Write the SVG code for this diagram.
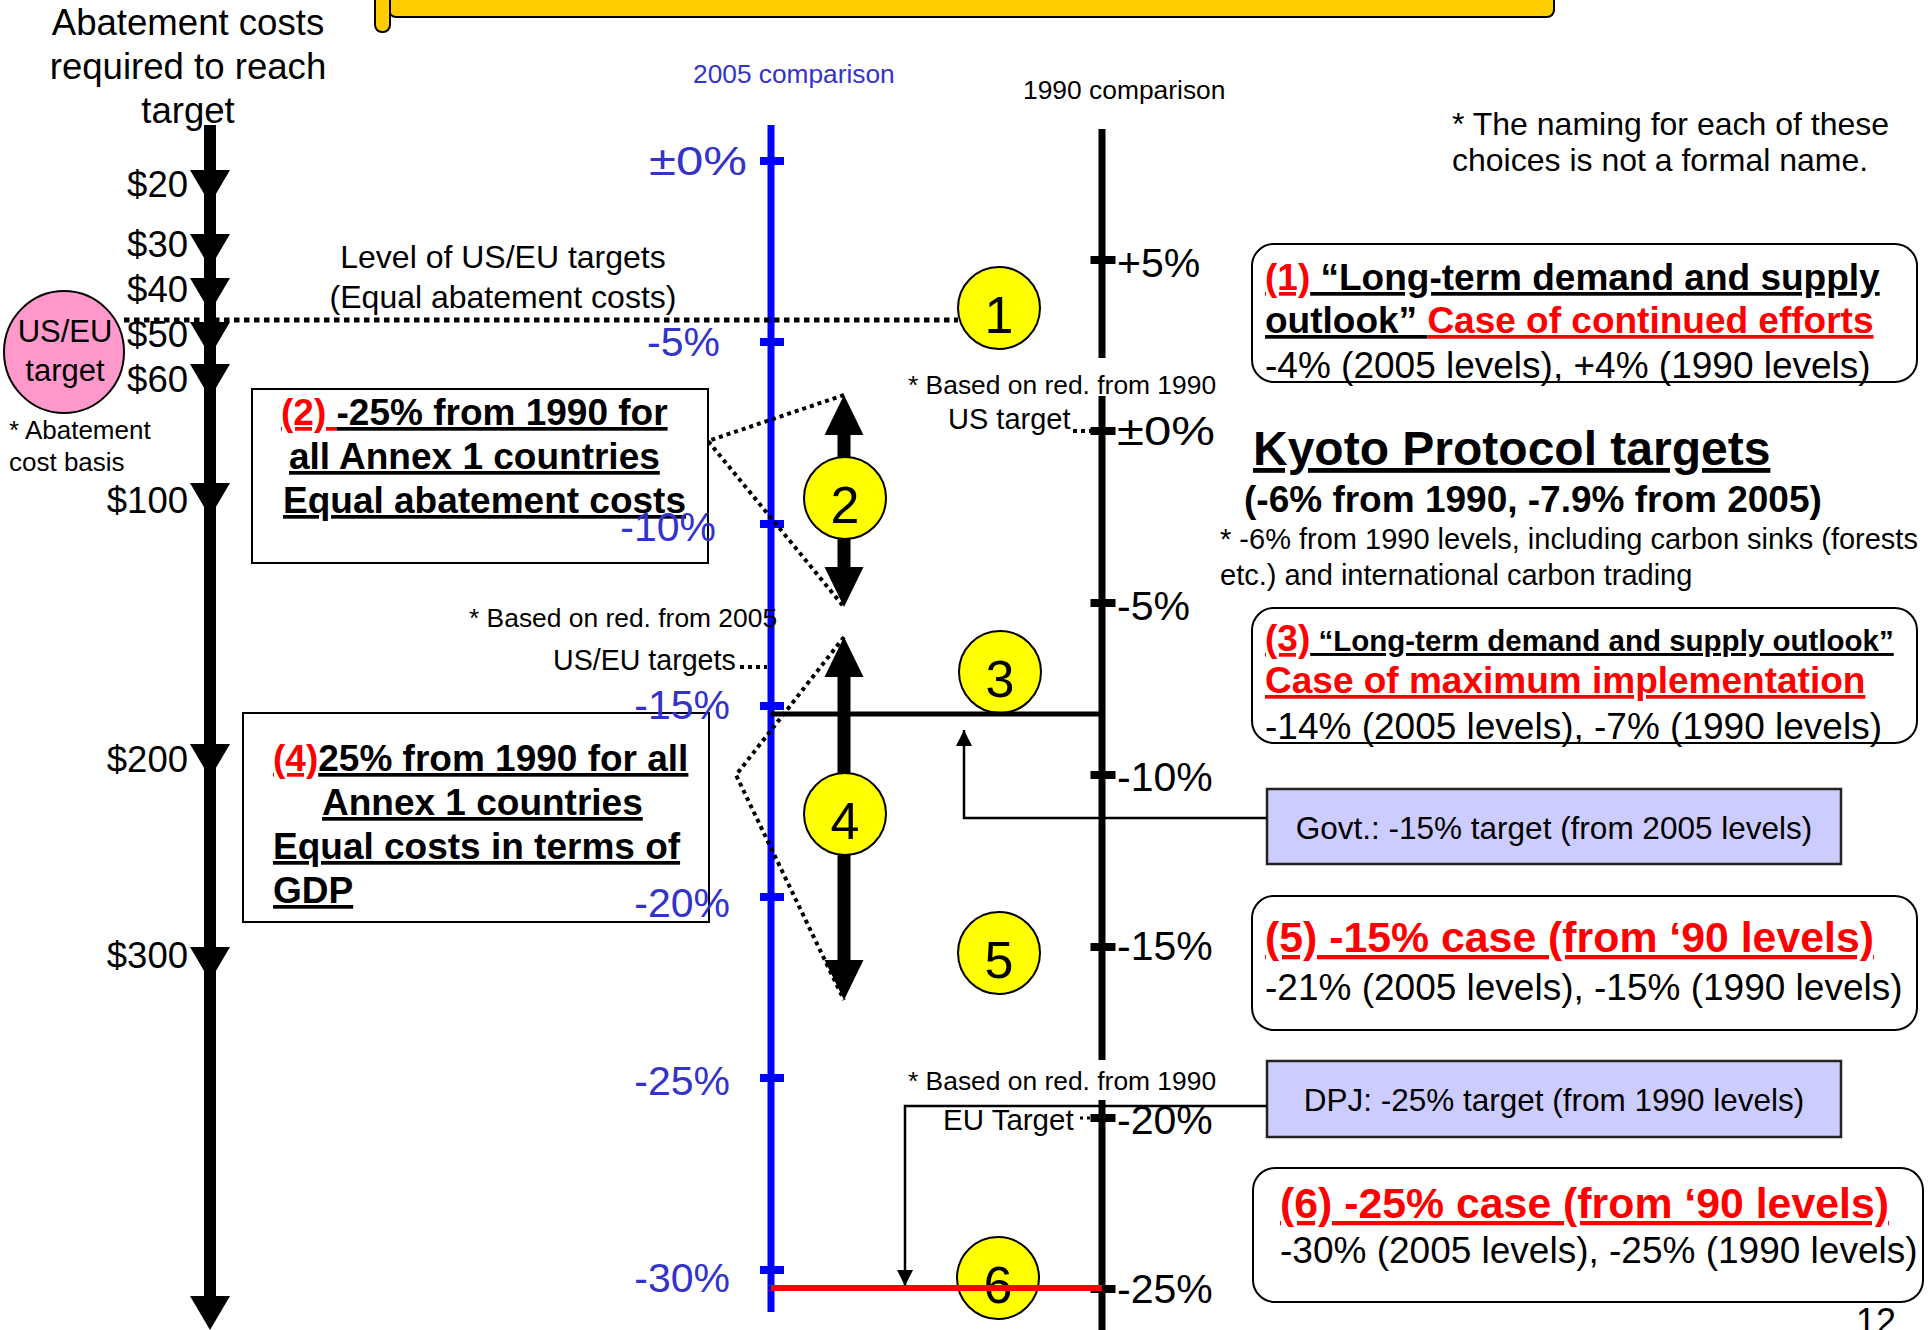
<svg xmlns="http://www.w3.org/2000/svg" width="1930" height="1330" viewBox="0 0 1930 1330">
<style>
text{font-family:"Liberation Sans",Arial,Helvetica,sans-serif;fill:#000}
.b{font-weight:bold}
.u{text-decoration:underline}
.r{fill:#FF0000}
.bl{fill:#3333CC}
.lab{font-size:41px}
.num{font-size:52px;text-anchor:middle}
.yc{fill:#FFFF00;stroke:#000;stroke-width:2}
.rb{fill:#FFFFFF;stroke:#000;stroke-width:2}
.pb{fill:#CCCCFF;stroke:#222;stroke-width:2.5}
.dot{fill:none;stroke:#000;stroke-width:4;stroke-dasharray:4 4}
.thin{fill:none;stroke:#000;stroke-width:2.5}
.end{text-anchor:end}
.mid{text-anchor:middle}
</style>
<defs>
<path id="dh" d="M-20,0 L20,0 L0,34 Z" fill="#000"/>
<rect id="bt" x="-12" y="-4" width="24" height="8" fill="#0000FF"/>
<rect id="kt" x="-12.5" y="-4" width="25" height="8" fill="#000"/>
<marker id="ah" viewBox="0 0 16 16" refX="16" refY="8" markerWidth="16" markerHeight="16" markerUnits="userSpaceOnUse" orient="auto"><path d="M0,0 L16,8 L0,16 Z" fill="#000"/></marker>
</defs>
<rect x="0" y="0" width="1930" height="1330" fill="#FFFFFF"/>

<g id="title-banner">
<rect x="389" y="-40" width="1165" height="57" rx="7" fill="#FFCC00" stroke="#000" stroke-width="2"/>
<rect x="375" y="-40" width="15" height="72" rx="7" fill="#FFCC00" stroke="#000" stroke-width="2"/>
</g>

<g id="cost-axis">
<text x="188" y="35" class="mid" font-size="36.6">Abatement costs</text>
<text x="188" y="79" class="mid" font-size="36.6">required to reach</text>
<text x="188" y="123" class="mid" font-size="36.6">target</text>
<line x1="210" y1="125" x2="210" y2="1300" stroke="#000" stroke-width="12"/>
<use href="#dh" x="210" y="170"/>
<use href="#dh" x="210" y="234"/>
<use href="#dh" x="210" y="278"/>
<use href="#dh" x="210" y="322"/>
<use href="#dh" x="210" y="364"/>
<use href="#dh" x="210" y="483"/>
<use href="#dh" x="210" y="744"/>
<use href="#dh" x="210" y="947"/>
<use href="#dh" x="210" y="1296"/>
<text x="188" y="197" class="end" font-size="36.5">$20</text>
<text x="188" y="257" class="end" font-size="36.5">$30</text>
<text x="188" y="302" class="end" font-size="36.5">$40</text>
<text x="188" y="347" class="end" font-size="36.5">$50</text>
<text x="188" y="392" class="end" font-size="36.5">$60</text>
<text x="188" y="513" class="end" font-size="36.5">$100</text>
<text x="188" y="772" class="end" font-size="36.5">$200</text>
<text x="188" y="968" class="end" font-size="36.5">$300</text>
<text x="9" y="439" font-size="26">* Abatement</text>
<text x="9" y="471" font-size="26">cost basis</text>
</g>

<g id="us-eu-target">
<ellipse cx="64" cy="352" rx="60" ry="61" fill="#FF99CC" stroke="#000" stroke-width="2"/>
<text x="65" y="342" class="mid" font-size="31">US/EU</text>
<text x="65" y="381" class="mid" font-size="31">target</text>
</g>

<g id="us-eu-level-label">
<text x="503" y="268" class="mid" font-size="32">Level of US/EU targets</text>
<text x="503" y="308" class="mid" font-size="32">(Equal abatement costs)</text>
</g>

<g id="box-2">
<rect x="252" y="389" width="456" height="174" fill="#FFFFFF" stroke="#000" stroke-width="2"/>
<text x="281" y="425" class="b" font-size="37"><tspan class="r u">(2) </tspan><tspan class="u">-25% from 1990 for</tspan></text>
<text x="289" y="469" class="b u" font-size="37">all Annex 1 countries</text>
<text x="283" y="513" class="b u" font-size="37">Equal abatement costs</text>
</g>

<g id="box-4">
<rect x="243" y="713" width="466" height="209" fill="#FFFFFF" stroke="#000" stroke-width="2"/>
<text x="273" y="771" class="b" font-size="37"><tspan class="r u">(4)</tspan><tspan class="u">25% from 1990 for all</tspan></text>
<text x="322" y="815" class="b u" font-size="37">Annex 1 countries</text>
<text x="273" y="859" class="b u" font-size="37">Equal costs in terms of</text>
<text x="273" y="903" class="b u" font-size="37">GDP</text>
</g>

<g id="axis-2005">
<text x="693" y="83" class="bl" font-size="26.3">2005 comparison</text>
<line x1="771" y1="125" x2="771" y2="1312" stroke="#0000FF" stroke-width="7"/>
<use href="#bt" x="772" y="161"/>
<use href="#bt" x="772" y="342"/>
<use href="#bt" x="772" y="524"/>
<use href="#bt" x="772" y="706"/>
<use href="#bt" x="772" y="897"/>
<use href="#bt" x="772" y="1078"/>
<use href="#bt" x="772" y="1270"/>
<text x="747" y="175" class="bl lab end" textLength="98" lengthAdjust="spacingAndGlyphs">±0%</text>
<text x="720" y="356" class="bl lab end">-5%</text>
<text x="716" y="541" class="bl lab end">-10%</text>
<text x="730" y="719" class="bl lab end">-15%</text>
<text x="730" y="917" class="bl lab end">-20%</text>
<text x="730" y="1095" class="bl lab end">-25%</text>
<text x="730" y="1292" class="bl lab end">-30%</text>
</g>

<g id="axis-1990">
<text x="1023" y="99" font-size="26.4">1990 comparison</text>
<line x1="1102" y1="129" x2="1102" y2="358" stroke="#000" stroke-width="7"/>
<line x1="1102" y1="396" x2="1102" y2="1060" stroke="#000" stroke-width="7"/>
<line x1="1102" y1="1100" x2="1102" y2="1330" stroke="#000" stroke-width="7"/>
<use href="#kt" x="1103" y="260"/>
<use href="#kt" x="1103" y="431"/>
<use href="#kt" x="1103" y="603"/>
<use href="#kt" x="1103" y="775"/>
<use href="#kt" x="1103" y="947"/>
<use href="#kt" x="1103" y="1118"/>
<use href="#kt" x="1103" y="1289"/>
<text x="1117" y="277" class="lab">+5%</text>
<text x="1117" y="445" class="lab" textLength="98" lengthAdjust="spacingAndGlyphs">±0%</text>
<text x="1117" y="620" class="lab">-5%</text>
<text x="1117" y="791" class="lab">-10%</text>
<text x="1117" y="960" class="lab">-15%</text>
<text x="1117" y="1134" class="lab">-20%</text>
<text x="1117" y="1303" class="lab">-25%</text>
</g>

<g id="arrow-2">
<line x1="844" y1="430" x2="844" y2="572" stroke="#000" stroke-width="13"/>
<path d="M824.5,435 L863.5,435 L844,395 Z" fill="#000"/>
<path d="M824.5,567 L863.5,567 L844,607 Z" fill="#000"/>
</g>
<g id="arrow-4">
<line x1="844" y1="672" x2="844" y2="965" stroke="#000" stroke-width="13"/>
<path d="M824.5,677 L863.5,677 L844,637 Z" fill="#000"/>
<path d="M824.5,960 L863.5,960 L844,1000 Z" fill="#000"/>
</g>

<g id="circle-1"><circle cx="999" cy="308" r="41" class="yc"/><text x="999" y="333" class="num">1</text></g>
<g id="circle-2"><circle cx="845" cy="498" r="41" class="yc"/><text x="845" y="523" class="num">2</text></g>
<g id="circle-3"><circle cx="1000" cy="672" r="41" class="yc"/><text x="1000" y="697" class="num">3</text></g>
<g id="circle-4"><circle cx="845" cy="814" r="41" class="yc"/><text x="845" y="839" class="num">4</text></g>
<g id="circle-5"><circle cx="999" cy="953" r="41" class="yc"/><text x="999" y="978" class="num">5</text></g>
<g id="circle-6"><circle cx="998" cy="1278" r="41" class="yc"/><text x="998" y="1303" class="num">6</text></g>

<g id="notes">
<text x="908" y="394" font-size="26.4">* Based on red. from 1990</text>
<text x="948" y="429" font-size="29">US target</text>
<text x="469" y="627" font-size="26.4">* Based on red. from 2005</text>
<text x="553" y="670" font-size="28.6">US/EU targets</text>
<text x="908" y="1090" font-size="26.4">* Based on red. from 1990</text>
<text x="943" y="1130" font-size="29.5">EU Target</text>
<text x="1452" y="135" font-size="32">* The naming for each of these</text>
<text x="1452" y="171" font-size="32">choices is not a formal name.</text>
</g>

<g id="box-1">
<rect x="1252" y="244" width="665" height="138" rx="22" class="rb"/>
<text x="1265" y="290" class="b" font-size="37"><tspan class="r u">(1)</tspan><tspan class="u"> “Long-term demand and supply</tspan></text>
<text x="1265" y="333" class="b" font-size="37"><tspan class="u">outlook” </tspan><tspan class="r u">Case of continued efforts</tspan></text>
<text x="1265" y="378" font-size="37">-4% (2005 levels), +4% (1990 levels)</text>
</g>

<g id="kyoto">
<text x="1253" y="465" class="b u" font-size="48">Kyoto Protocol targets</text>
<text x="1244" y="512" class="b" font-size="37">(-6% from 1990, -7.9% from 2005)</text>
<text x="1220" y="549" font-size="29">* -6% from 1990 levels, including carbon sinks (forests</text>
<text x="1220" y="585" font-size="29">etc.) and international carbon trading</text>
</g>

<g id="box-3">
<rect x="1252" y="608" width="665" height="135" rx="22" class="rb"/>
<text x="1265" y="651" class="b"><tspan class="r u" font-size="37">(3)</tspan><tspan class="u" font-size="29.5"> “Long-term demand and supply outlook”</tspan></text>
<text x="1265" y="693" class="b r u" font-size="37">Case of maximum implementation</text>
<text x="1265" y="739" font-size="37">-14% (2005 levels), -7% (1990 levels)</text>
</g>

<g id="govt-box">
<rect x="1267" y="789" width="574" height="75" class="pb"/>
<text x="1554" y="839" class="mid" font-size="31.5">Govt.: -15% target (from 2005 levels)</text>
</g>

<g id="box-5">
<rect x="1252" y="896" width="665" height="134" rx="22" class="rb"/>
<text x="1265" y="952" class="b r u" font-size="42.8">(5) -15% case (from ‘90 levels)</text>
<text x="1265" y="1000" font-size="37">-21% (2005 levels), -15% (1990 levels)</text>
</g>

<g id="dpj-box">
<rect x="1267" y="1061" width="574" height="76" class="pb"/>
<text x="1554" y="1111" class="mid" font-size="31.5">DPJ: -25% target (from 1990 levels)</text>
</g>

<g id="box-6">
<rect x="1253" y="1168" width="670" height="134" rx="22" class="rb"/>
<text x="1280" y="1218" class="b r u" font-size="42.8">(6) -25% case (from ‘90 levels)</text>
<text x="1280" y="1263" font-size="37">-30% (2005 levels), -25% (1990 levels)</text>
</g>

<text x="1856" y="1334" font-size="36">12</text>

<g id="connectors">
<line x1="124" y1="320" x2="958" y2="320" stroke="#000" stroke-width="5" stroke-dasharray="5.5 4.5"/>
<polyline points="844,395 708,441 844,607" class="dot"/>
<polyline points="844,637 736,775 844,1000" class="dot"/>
<line x1="740" y1="667" x2="767" y2="667" class="dot"/>
<line x1="1073" y1="431" x2="1099" y2="431" class="dot"/>
<line x1="1080" y1="1118" x2="1097" y2="1118" stroke="#000" stroke-width="3" stroke-dasharray="3 4"/>
<line x1="771" y1="714" x2="1102" y2="714" stroke="#000" stroke-width="5"/>
<line x1="771" y1="1288" x2="1102" y2="1288" stroke="#FF0000" stroke-width="6"/>
<polyline points="1267,818 964,818 964,730" class="thin" marker-end="url(#ah)"/>
<polyline points="1267,1106 905,1106 905,1286" class="thin" marker-end="url(#ah)"/>
</g>
</svg>
